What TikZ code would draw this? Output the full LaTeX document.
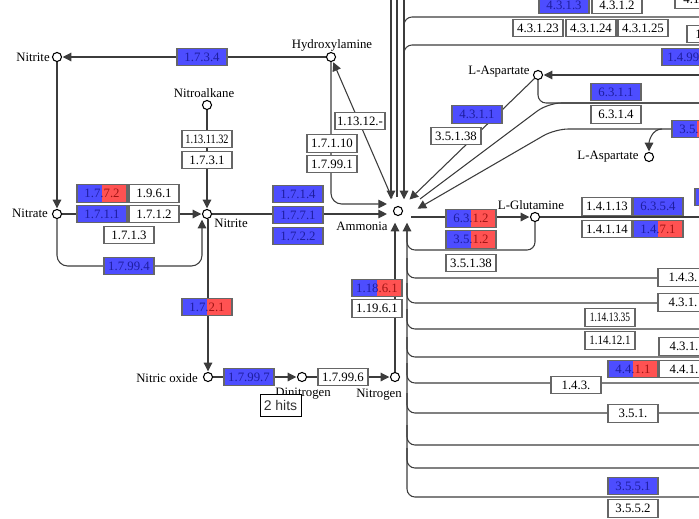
\documentclass[tikz,border=0pt]{standalone}
\usepackage{fontspec}
\setmainfont{Liberation Serif}
\newfontfamily\hitsfont{Liberation Sans}
\usepackage{graphicx}
\usetikzlibrary{arrows.meta,calc,backgrounds}
\definecolor{keggblue}{HTML}{4D4DFF}
\definecolor{keggbluetx}{HTML}{1E1EA0}
\definecolor{keggred}{HTML}{FF5252}
\definecolor{keggredtx}{HTML}{A01414}
\definecolor{edgec}{HTML}{3C3C3C}
\definecolor{boxc}{HTML}{666666}
\newcommand{\kegg}{\fontsize{9.6}{10.5}\selectfont}
\newcommand{\splitec}[2]{{\color{keggbluetx}#1}{\color{keggredtx}#2}}
\tikzset{
  cpd/.style={circle, draw=black, fill=white, line width=0.8pt, minimum size=6.8pt, inner sep=0pt},
  ecbox/.style={rectangle, draw=boxc, line width=0.8pt, minimum width=37.5pt, minimum height=13pt,
                inner sep=0pt, font=\kegg},
  ecw/.style={ecbox, fill=white},
  ecb/.style={ecbox, fill=keggblue, text=keggbluetx},
  ecs/.style={ecbox, fill=keggblue, path picture={
      \fill[keggred] (path picture bounding box.south) rectangle (path picture bounding box.north east);}},
  cname/.style={font=\kegg, inner sep=0pt},
  ln/.style={draw=edgec, line width=0.8pt},
  arr/.style={ln, -{Triangle[length=6.5pt,width=6.5pt]}, shorten >=0.5pt},
  amarr/.style={arr, shorten >=4.5pt},
  hits/.style={draw=black, fill=white, line width=0.75pt, font=\hitsfont\fontsize{10.5}{12}\selectfont,
               text=black!80, minimum width=30.75pt, minimum height=16.5pt, inner sep=1pt},
}

\begin{document}
\begin{tikzpicture}[x=0.75pt,y=-0.75pt]
  \useasboundingbox (0,0) rectangle (699,518);
  \clip (0,0) rectangle (699,518);

  % compounds
  \node[cpd] (nit1) at (57,57) {};
  \node[cpd] (hyd) at (331,57) {};
  \node[cpd] (nalk) at (207,105) {};
  \node[cpd] (nat) at (57,214) {};
  \node[cpd] (nit2) at (207,214) {};
  \node[cpd] (amm) at (398,211) {};
  \node[cpd] (nox) at (208,377) {};
  \node[cpd] (n2o) at (302,377) {};
  \node[cpd] (ntg) at (395,377) {};
  \node[cpd] (asp1) at (538,75) {};
  \node[cpd] (asp2) at (649,157) {};
  \node[cpd] (gln) at (535,217) {};

  \node[cname] (tnit1) at (33,57) {Nitrite};
  \node[cname] (thyd) at (332,45) {Hydroxylamine};
  \node[cname] (tnalk) at (204,93) {Nitroalkane};
  \node[cname] (tnat) at (30,213) {Nitrate};
  \node[cname] (tnit2) at (231,223) {Nitrite};
  \node[cname] (tamm) at (362,226) {Ammonia};
  \node[cname] (tnox) at (167,378) {Nitric oxide};
  \node[cname] (tn2o) at (303,394) {Dinitrogen};
  \node[cname] (tntg) at (379,395) {Nitrogen};
  \node[cname] (tasp1) at (499,72) {L-Aspartate};
  \node[cname] (tasp2) at (608,157) {L-Aspartate};
  \node[cname] (tgln) at (531,205) {L-Glutamine};

  % enzymes, left half
  \node[ecb] (e1734) at (202,57) {1.7.3.4};
  \node[ecs] (e1772) at (102,193.5) {\splitec{1.7.}{7.2}};
  \node[ecb] (e1711) at (102,214) {1.7.1.1};
  \node[ecw] (e1961) at (154,193.5) {1.9.6.1};
  \node[ecw] (e1712) at (154,214) {1.7.1.2};
  \node[ecw] (e1713) at (129,235) {1.7.1.3};
  \node[ecb] (e17994) at (129,266) {1.7.99.4};
  \node[ecw] (e113) at (207,139) {\scalebox{0.8}[1]{1.13.11.32}};
  \node[ecw] (e1731) at (207,160) {1.7.3.1};
  \node[ecb] (e1714) at (298,194) {1.7.1.4};
  \node[ecb] (e1771) at (298,215) {1.7.7.1};
  \node[ecb] (e1722) at (298,236) {1.7.2.2};
  \node[ecw] (e17110) at (332,143.5) {1.7.1.10};
  \node[ecw] (e17991) at (332,164) {1.7.99.1};
  \node[ecw] (e11312) at (360,121) {1.13.12.-};
  \node[ecs] (e1721) at (207,307) {\splitec{1.7.}{2.1}};
  \node[ecb] (e17997) at (249,377) {1.7.99.7};
  \node[ecw] (e17996) at (343,377) {1.7.99.6};
  \node[ecs] (e11861) at (377,288) {\splitec{1.18}{.6.1}};
  \node[ecw] (e11961) at (377,308.5) {1.19.6.1};

  % enzymes, right half
  \node[ecb] (e4313) at (564,5) {4.3.1.3};
  \node[ecw] (e4312) at (617,5) {4.3.1.2};
  \node[ecw] (e41) at (700,-0.5) {4.1.1.-};
  \node[ecw] (e43123) at (538,28) {4.3.1.23};
  \node[ecw] (e43124) at (591,28) {4.3.1.24};
  \node[ecw] (e43125) at (643,28) {4.3.1.25};
  \node[ecw] (e14x) at (712,34) {1.4.1.-};
  \node[ecb] (e1499) at (687,57) {1.4.99.-};
  \node[ecb] (e4311) at (477,114.5) {4.3.1.1};
  \node[ecw] (e35138) at (456,136) {3.5.1.38};
  \node[ecb] (e6311) at (616,92) {6.3.1.1};
  \node[ecw] (e6314) at (616,114.5) {6.3.1.4};
  \node[ecs] (e351x) at (697,129) {\splitec{3.5.}{5.1}};
  \node[ecw] (e14113) at (607,206.5) {1.4.1.13};
  \node[ecb] (e6354) at (658,206.5) {6.3.5.4};
  \node[ecb] (e14x2) at (720,197) {1.4.1.2};
  \node[ecw] (e14114) at (607,229) {1.4.1.14};
  \node[ecs] (e1471) at (658,229) {\splitec{1.4.}{7.1}};
  \node[ecs] (e6312) at (471,218.5) {\splitec{6.3.}{1.2}};
  \node[ecs] (e3512) at (471,239.5) {\splitec{3.5.}{1.2}};
  \node[ecw] (e35138b) at (471,263) {3.5.1.38};
  \node[ecw] (e143a) at (683,277.5) {1.4.3.};
  \node[ecw] (e431a) at (683,302.5) {4.3.1.};
  \node[ecw] (e1141335) at (610,317.5) {\scalebox{0.74}[1]{1.14.13.35}};
  \node[ecw] (e114121) at (610,340.5) {\scalebox{0.86}[1]{1.14.12.1}};
  \node[ecw] (e431b) at (684,346.5) {4.3.1.};
  \node[ecs] (e4411) at (633,369) {\splitec{4.4.}{1.1}};
  \node[ecw] (e441) at (684,369) {4.4.1.};
  \node[ecw] (e143b) at (576,385) {1.4.3.};
  \node[ecw] (e351) at (633,413.5) {3.5.1.};
  \node[ecb] (e3551) at (633,486) {3.5.5.1};
  \node[ecw] (e3552) at (633,508.5) {3.5.5.2};

  \node[hits] (hits) at (280.5,405) {2 hits};

  % free ends at the border
  \coordinate (top1) at (391,0);
  \coordinate (top2) at (397,0);
  \coordinate (top3) at (404,0);
  \coordinate (r17) at (699,17);
  \coordinate (r45) at (699,45);
  \coordinate (r75) at (699,75);
  \coordinate (r103) at (699,103);
  \coordinate (r129) at (699,129);
  \coordinate (br129) at (662,129);
  \coordinate (r217) at (699,217);
  \coordinate (r497) at (699,497);

  \begin{scope}[on background layer]
    \fill[white] (0,0) rectangle (699,518);
    \draw[arr] (hyd) -- (nit1);
    \draw[arr] (nit1) -- (nat);
    \draw[arr] (nat) -- (nit2);
    \draw[arr,rounded corners=8] (nat) |- ($(nit2)+(-5,52)$) -- ($(nit2.south)+(-5,0)$);
    \draw[arr] (nalk) -- (nit2);
    \draw[amarr] (nit2) -- (nit2 -| amm.west);
    \draw[amarr,rounded corners=8] (hyd) |- ($(amm.west)+(0,-7)$);
    \draw[arr] ($(amm)+(-6,-13)$) -- (hyd);
    \draw[arr] (nit2.south -| nox) -- (nox);
    \draw[arr] (nox) -- (n2o);
    \draw[arr] (n2o) -- (ntg);
    \draw[arr, shorten >=5pt] (ntg) -- (ntg |- amm.south);

    \draw[arr, shorten >=5pt] (top1) -- (top1 |- amm.north);
    \draw[ln] (top2) -- ($(top2 |- amm.north)+(0,-9)$);
    \draw[arr, shorten >=5pt] (top3) -- (top3 |- amm.north);
    \draw[ln,rounded corners=6] (r17) -| ($(top3)+(0,30)$);
    \draw[ln,rounded corners=6] (r45) -| ($(top3)+(0,60)$);

    \draw[arr] (r75) -- (asp1);
    \draw[arr] (asp1.south west) -- ($(amm)+(11,-11)$);
    \draw[ln,rounded corners=6] (asp1) |- (r103);
    \draw[ln,rounded corners=10] (r103) -- ($(asp1)+(10,28)$) -- ($(amm)+(22,-12)$);
    \draw[arr,rounded corners=10] (r129) -- ($(asp1)+(17,54)$) -- ($(amm)+(19,-2)$);
    \draw[arr] (br129) to[out=180,in=90] (asp2);

    \draw[arr] ($(amm.east)+(8,6)$) -- (gln);
    \draw[ln] (gln) -- (r217);
    \draw[arr,rounded corners=6, shorten >=5pt] (r497) -| ($(amm.south)+(9,0)$);
    \draw[ln,rounded corners=6] (gln) |- ($(amm)+(9,39)$) -- ($(amm)+(9,20)$);
    \foreach \y in {278,303,329,357,383,413,445,468}
      \draw[ln,rounded corners=6] (699,\y) -| (407,\y-20);
  \end{scope}
\end{tikzpicture}
\end{document}
